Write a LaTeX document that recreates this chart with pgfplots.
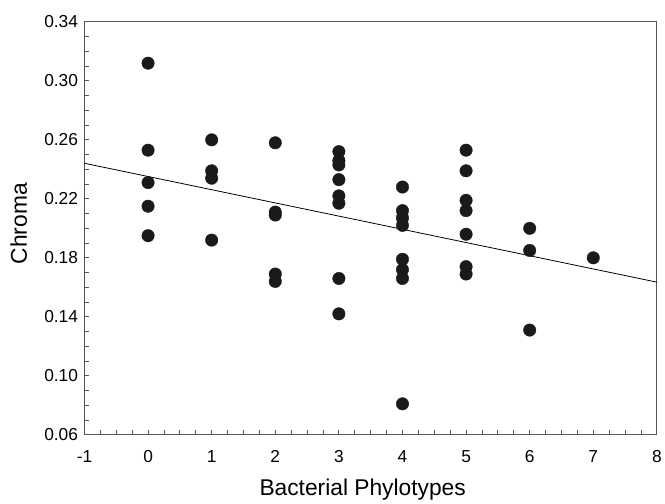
\documentclass[border=0pt]{standalone}
\usepackage{pgfplots}
\pgfplotsset{compat=1.18}
\usepackage{fontspec}
\setmainfont{Liberation Sans}

\definecolor{dotcol}{HTML}{1A1A1A}
\definecolor{framecol}{HTML}{555555}

\begin{document}
\begin{tikzpicture}
\begin{axis}[
    scale only axis,
    width=576bp, height=415.5bp,
    xmin=-1, xmax=8,
    ymin=0.06, ymax=0.34,
    xtick={-1,0,...,8},
    ytick={0.06,0.10,0.14,0.18,0.22,0.26,0.30,0.34},
    minor x tick num=3,
    minor y tick num=3,
    tick align=inside,
    xtick pos=bottom, ytick pos=left,
    major tick length=5bp, minor tick length=4.5bp,
    axis line style={framecol, line width=0.9bp},
    every tick/.style={framecol, line width=0.8bp},
    /pgf/number format/assume math mode=true,
    y tick label style={/pgf/number format/fixed, /pgf/number format/fixed zerofill, /pgf/number format/precision=2},
    tick label style={font=\fontsize{17.5}{21}\selectfont},
    xticklabel style={yshift=-12bp},
    yticklabel style={xshift=-3bp},
    xlabel={Bacterial Phylotypes},
    ylabel={Chroma},
    xlabel style={font=\fontsize{23}{27}\selectfont, at={(axis description cs:0.486,0)}, anchor=base, yshift=-61bp},
    ylabel style={font=\fontsize{23}{27}\selectfont, at={(axis description cs:-0.1007,0.511)}, anchor=base},
]

% regression line
\addplot[black, line width=0.8bp] coordinates {(-1,0.2441) (8,0.1635)};

% observations
\addplot[only marks, mark=*, mark size=6.3pt, dotcol, mark options={draw=dotcol, fill=dotcol}] coordinates {
    (0,0.312)(0,0.253)(0,0.231)(0,0.215)(0,0.195)
    (1,0.260)(1,0.239)(1,0.234)(1,0.192)
    (2,0.258)(2,0.211)(2,0.209)(2,0.169)(2,0.164)
    (3,0.252)(3,0.246)(3,0.243)(3,0.233)(3,0.222)(3,0.217)(3,0.166)(3,0.142)
    (4,0.228)(4,0.212)(4,0.207)(4,0.202)(4,0.179)(4,0.172)(4,0.166)(4,0.081)
    (5,0.253)(5,0.239)(5,0.219)(5,0.212)(5,0.196)(5,0.174)(5,0.169)
    (6,0.200)(6,0.185)(6,0.131)
    (7,0.180)
};
\end{axis}
\path[use as bounding box] (-85bp,-64.5bp) rectangle (580bp,437.5bp);
\end{tikzpicture}
\end{document}
